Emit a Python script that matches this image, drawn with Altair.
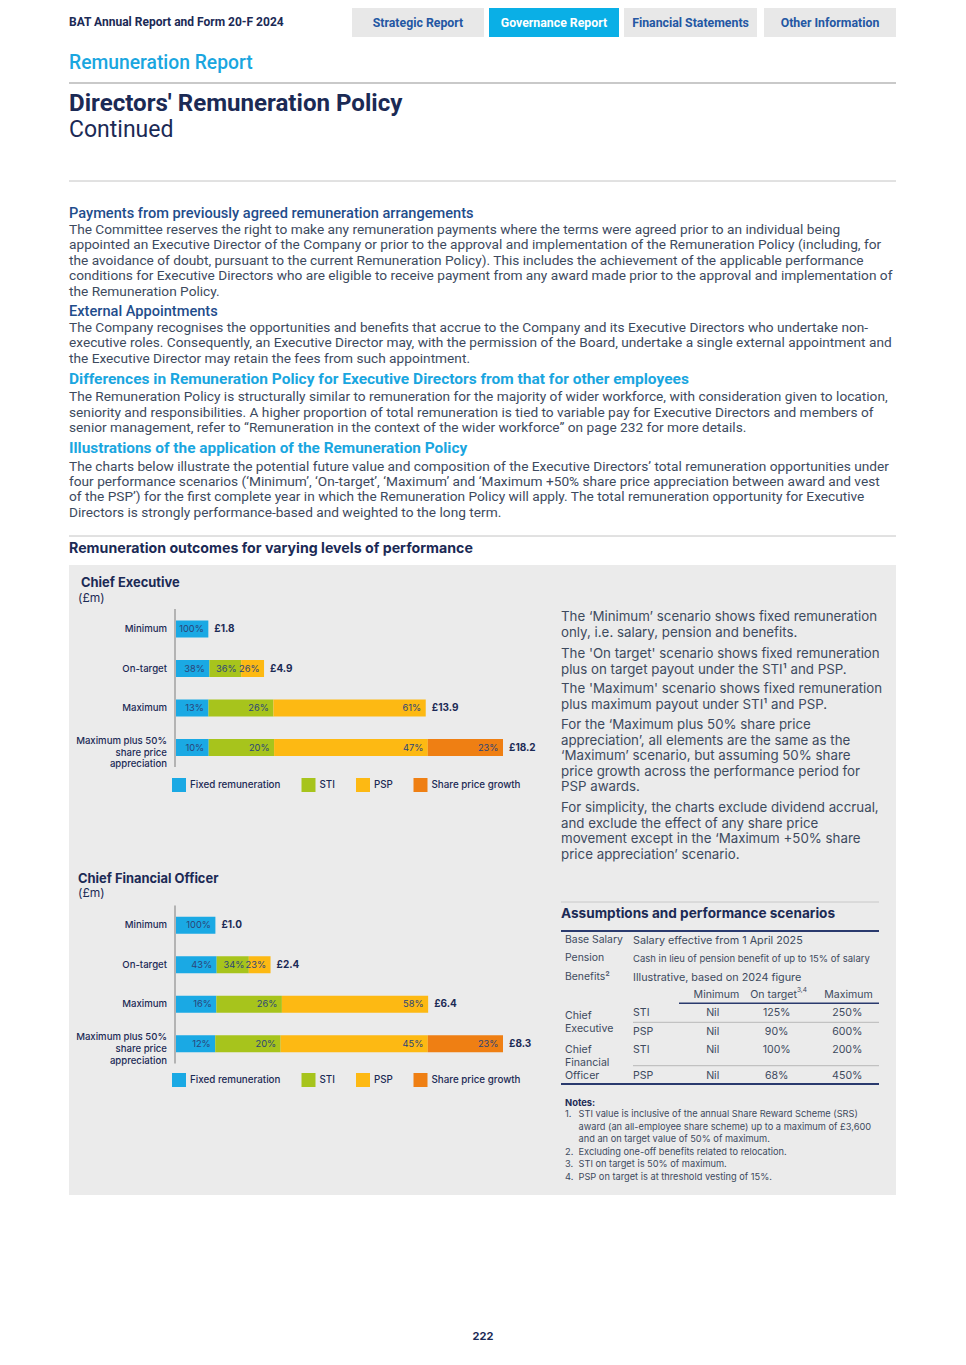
import altair as alt
import pandas as pd

# ---------------- data ----------------
scenarios = ["Minimum", "On-target", "Maximum", "Maximum plus 50%\nshare price\nappreciation"]
components = ["Fixed remuneration", "STI", "PSP", "Share price growth"]
component_colors = ["#1aa9e4", "#a7c41c", "#fdb913", "#ef7f13"]

ceo_totals = [1.8, 4.9, 13.9, 18.2]
ceo_fixed = [100, 38, 13, 10]
ceo_sti = [0, 36, 26, 20]
ceo_psp = [0, 26, 61, 47]
ceo_growth = [0, 0, 0, 23]

cfo_totals = [1.0, 2.4, 6.4, 8.3]
cfo_fixed = [100, 43, 16, 12]
cfo_sti = [0, 34, 26, 20]
cfo_psp = [0, 23, 58, 45]
cfo_growth = [0, 0, 0, 23]

header_left = "BAT Annual Report and Form 20-F 2024"
tabs = ["Strategic Report", "Governance Report", "Financial Statements", "Other Information"]
section = "Remuneration Report"
title = "Directors' Remuneration Policy"
subtitle = "Continued"

h_payments = "Payments from previously agreed remuneration arrangements"
p_payments = [
    "The Committee reserves the right to make any remuneration payments where the terms were agreed prior to an individual being",
    "appointed an Executive Director of the Company or prior to the approval and implementation of the Remuneration Policy (including, for",
    "the avoidance of doubt, pursuant to the current Remuneration Policy). This includes the achievement of the applicable performance",
    "conditions for Executive Directors who are eligible to receive payment from any award made prior to the approval and implementation of",
    "the Remuneration Policy.",
]
h_external = "External Appointments"
p_external = [
    "The Company recognises the opportunities and benefits that accrue to the Company and its Executive Directors who undertake non-",
    "executive roles. Consequently, an Executive Director may, with the permission of the Board, undertake a single external appointment and",
    "the Executive Director may retain the fees from such appointment.",
]
h_diff = "Differences in Remuneration Policy for Executive Directors from that for other employees"
p_diff = [
    "The Remuneration Policy is structurally similar to remuneration for the majority of wider workforce, with consideration given to location,",
    "seniority and responsibilities. A higher proportion of total remuneration is tied to variable pay for Executive Directors and members of",
    "senior management, refer to \u201cRemuneration in the context of the wider workforce\u201d on page 232 for more details.",
]
h_illus = "Illustrations of the application of the Remuneration Policy"
p_illus = [
    "The charts below illustrate the potential future value and composition of the Executive Directors\u2019 total remuneration opportunities under",
    "four performance scenarios (\u2018Minimum\u2019, \u2018On-target\u2019, \u2018Maximum\u2019 and \u2018Maximum +50% share price appreciation between award and vest",
    "of the PSP\u2019) for the first complete year in which the Remuneration Policy will apply. The total remuneration opportunity for Executive",
    "Directors is strongly performance-based and weighted to the long term.",
]
h_outcomes = "Remuneration outcomes for varying levels of performance"
ceo_title = "Chief Executive"
cfo_title = "Chief Financial Officer"
unit_label = "(\u00a3m)"

side_paras = [
    ["The \u2018Minimum\u2019 scenario shows fixed remuneration", "only, i.e. salary, pension and benefits."],
    ["The 'On target' scenario shows fixed remuneration", "plus on target payout under the STI\u00b9 and PSP."],
    ["The 'Maximum' scenario shows fixed remuneration", "plus maximum payout under STI\u00b9 and PSP."],
    ["For the \u2018Maximum plus 50% share price", "appreciation\u2019, all elements are the same as the",
     "\u2018Maximum\u2019 scenario, but assuming 50% share", "price growth across the performance period for", "PSP awards."],
    ["For simplicity, the charts exclude dividend accrual,", "and exclude the effect of any share price",
     "movement except in the \u2018Maximum +50% share", "price appreciation\u2019 scenario."],
]

assump_title = "Assumptions and performance scenarios"
assump_labels = ["Base Salary", "Pension", "Benefits\u00b2"]
assump_values = ["Salary effective from 1 April 2025",
                 "Cash in lieu of pension benefit of up to 15% of salary",
                 "Illustrative, based on 2024 figure"]
table_cols = ["Minimum", "On target", "Maximum"]
table_roles = [["Chief", "Executive"], ["Chief", "Financial", "Officer"]]
table_plans = ["STI", "PSP", "STI", "PSP"]
table_min = ["Nil", "Nil", "Nil", "Nil"]
table_target = ["125%", "90%", "100%", "68%"]
table_max = ["250%", "600%", "200%", "450%"]

notes_title = "Notes:"
notes = [
    ["STI value is inclusive of the annual Share Reward Scheme (SRS)",
     "award (an all-employee share scheme) up to a maximum of \u00a33,600",
     "and an on target value of 50% of maximum."],
    ["Excluding one-off benefits related to relocation."],
    ["STI on target is 50% of maximum."],
    ["PSP on target is at threshold vesting of 15%."],
]
page_number = "222"

# ---------------- style ----------------
NAVY = "#1b2a55"
BODY = "#3d4a5e"
DBLUE = "#1f4d8c"
CYAN = "#1aa6df"
TABTXT = "#2457a3"
TABBG = "#e8e8e8"
TABACT = "#0aafe6"
PANEL = "#ebebeb"
F_BODY = "Roboto"
F_UI = "Inter"

ONE = pd.DataFrame({"k": [0]})
OFF = 8


def X(v):
    return v - OFF


def Y(v):
    return v - OFF


def text(lines, x, y, size, color, font=F_UI, weight="normal", lh=15.5, align="left"):
    kw = dict(align=align, baseline="top", font=font, fontSize=size, color=color, fontWeight=weight)
    if isinstance(lines, list):
        kw["lineHeight"] = lh
    return alt.Chart(ONE).mark_text(**kw).encode(
        x=alt.value(X(x)), y=alt.value(Y(y) - 0.47 * size), text=alt.value(lines))


def rect(x1, x2, y1, y2, color):
    return alt.Chart(ONE).mark_rect(color=color).encode(
        x=alt.value(X(x1)), x2=alt.value(X(x2)), y=alt.value(max(Y(y1), 0)), y2=alt.value(Y(y2)))


def hrule(x1, x2, y, color, w=1.0):
    return alt.Chart(ONE).mark_rule(color=color, strokeWidth=w).encode(
        x=alt.value(X(x1)), x2=alt.value(X(x2)), y=alt.value(Y(y)))


def vrule(x, y1, y2, color, w=1.0):
    return alt.Chart(ONE).mark_rule(color=color, strokeWidth=w).encode(
        x=alt.value(X(x)), y=alt.value(Y(y1)), y2=alt.value(Y(y2)))


def bar_chart(totals, series, x0, x1, y0, y1, legend_y):
    rows = []
    for si, s in enumerate(scenarios):
        for ci, c in enumerate(components):
            p = series[ci][si]
            if p > 0:
                rows.append({"scenario": s, "component": c, "ord": ci, "pct": p,
                             "value": totals[si] * p / 100.0})
    df = pd.DataFrame(rows)
    tot = pd.DataFrame({"scenario": scenarios, "total": totals,
                        "lines": [s.count("\n") + 1 for s in scenarios]})
    xs = alt.Scale(domain=[0, max(totals)], range=[X(x0), X(x1)], nice=False, zero=True)
    ys = alt.Scale(domain=scenarios, range=[Y(y0), Y(y1)], paddingInner=0.57, paddingOuter=0.285)
    ych = alt.Y("scenario:N", scale=ys, axis=None, sort=scenarios)

    bars = alt.Chart(df).mark_bar().encode(
        x=alt.X("value:Q", stack="zero", scale=xs, axis=None),
        y=ych,
        color=alt.Color("component:N",
                        scale=alt.Scale(domain=components, range=component_colors),
                        legend=alt.Legend(orient="none", legendX=X(172), legendY=Y(legend_y) - 7,
                                          direction="horizontal", columns=4, title=None,
                                          symbolType="square", symbolSize=196, symbolStrokeWidth=0,
                                          labelFont=F_UI, labelFontSize=9.8, labelFontWeight=500,
                                          labelColor=NAVY, columnPadding=20.5, labelOffset=4,
                                          padding=0)),
        order=alt.Order("ord:Q"),
    )
    pct = alt.Chart(df).transform_stack(
        stack="value", groupby=["scenario"], sort=[alt.SortField("ord")], as_=["s0", "s1"]
    ).transform_calculate(label="datum.pct + '%'").mark_text(
        align="right", baseline="middle", dx=-4.5, font=F_UI, fontSize=9.3, color="#2b4478"
    ).encode(x=alt.X("s1:Q", scale=xs, axis=None), y=ych, text="label:N")
    totals_lbl = alt.Chart(tot).transform_calculate(
        label="'\u00a3' + format(datum.total, '.1f')"
    ).mark_text(align="left", baseline="middle", dx=6, font=F_UI, fontSize=10,
                fontWeight="bold", color=NAVY).encode(
        x=alt.X("total:Q", scale=xs, axis=None), y=ych, text="label:N")
    lab1 = alt.Chart(tot).transform_filter(alt.datum.lines == 1).mark_text(
        align="right", baseline="middle", font=F_UI, fontSize=9.6, fontWeight=500, color=NAVY
    ).encode(x=alt.value(X(167)), y=ych, text="scenario:N")
    lab3 = alt.Chart(tot).transform_filter(alt.datum.lines > 1).mark_text(
        align="right", baseline="top", dy=-11.5, lineBreak="\n", lineHeight=11.7,
        font=F_UI, fontSize=9.6, fontWeight=500, color=NAVY
    ).encode(x=alt.value(X(167)), y=ych, text="scenario:N")
    return alt.layer(bars, pct, totals_lbl, lab1, lab3)


layers = []
# header tabs
tab_x = [(352, 484), (489, 619), (624, 757), (764, 896)]
for i, (name, (a, b)) in enumerate(zip(tabs, tab_x)):
    layers.append(rect(a, b, 0, 37, TABACT if i == 1 else TABBG))
    layers.append(text(name, (a + b) / 2, 23, 12.3, "white" if i == 1 else TABTXT,
                       font=F_BODY, weight="bold", align="center"))
layers.append(text(header_left, 69, 23, 12, NAVY, font=F_BODY, weight="bold"))
layers.append(text(section, 69, 63, 19.3, CYAN, font=F_BODY, weight=500))
layers.append(hrule(69, 896, 83, "#c9c9c9", 2))
layers.append(text(title, 69, 103, 24.1, NAVY, font=F_BODY, weight="bold"))
layers.append(text(subtitle, 69, 130, 23, NAVY, font=F_BODY))
layers.append(hrule(69, 896, 181, "#c4c4c4", 1))

# body paragraphs
layers.append(text(h_payments, 69, 213, 14.6, DBLUE, font=F_BODY, weight=500))
layers.append(text(p_payments, 69, 229, 13.7, BODY, font=F_BODY, lh=15.5))
layers.append(text(h_external, 69, 311, 14.6, DBLUE, font=F_BODY, weight=500))
layers.append(text(p_external, 69, 327.5, 13.7, BODY, font=F_BODY, lh=15.4))
layers.append(text(h_diff, 69, 379, 15.5, CYAN, font=F_BODY, weight="bold"))
layers.append(text(p_diff, 69, 396.5, 13.7, BODY, font=F_BODY, lh=15.6))
layers.append(text(h_illus, 69, 448, 15.4, CYAN, font=F_BODY, weight="bold"))
layers.append(text(p_illus, 69, 466, 13.7, BODY, font=F_BODY, lh=15.4))
layers.append(hrule(69, 896, 536, "#c4c4c4", 1))
layers.append(text(h_outcomes, 69, 549, 14.2, NAVY, weight="bold"))

# grey panel
layers.append(rect(69, 896, 565, 1195, PANEL))

# chart titles
layers.append(text(ceo_title, 81, 583, 12.9, NAVY, weight="bold"))
layers.append(text(unit_label, 78, 599, 12, NAVY))
layers.append(text(cfo_title, 78, 879, 12.9, NAVY, weight="bold"))
layers.append(text(unit_label, 78, 894, 12, NAVY))
layers.append(vrule(175, 609, 767, "#a0a0a0", 1.5))
layers.append(vrule(175, 905.5, 1063.5, "#a0a0a0", 1.5))

# side text
para_y = [616.7, 653.3, 688.3, 724.3, 807.3]
for lines, yy in zip(side_paras, para_y):
    layers.append(text(lines, 561, yy, 13.3, BODY, lh=15.5))

# assumptions table
layers.append(hrule(561, 879, 902, "#c8c8c8", 1))
layers.append(text(assump_title, 561, 913, 13.6, NAVY, weight="bold"))
layers.append(hrule(561, 879, 931, "#2a3a6e", 2))
for lab, val, yy in zip(assump_labels, assump_values, [940, 958.3, 976.7]):
    layers.append(text(lab, 565, yy, 10.4, BODY))
    layers.append(text(val, 633, yy, 9.5 if len(val) > 40 else 10.8, BODY))
col_x = [716.5, 773.5, 848.5]
for name, cx in zip(table_cols, col_x):
    layers.append(text(name, cx, 995, 10.6, BODY, align="center"))
layers.append(text("3,4", 797, 990, 6.5, BODY))
layers.append(hrule(679, 879, 1003.3, "#2a3a6e", 1.5))
layers.append(text(table_roles[0], 565, 1015.7, 10.6, BODY, lh=13.3))
layers.append(text(table_roles[1], 565, 1050, 10.6, BODY, lh=12.9))
row_y = [1013.3, 1031.7, 1049.7, 1075.7]
data_x = [712.7, 776.7, 847.3]
for i, yy in enumerate(row_y):
    layers.append(text(table_plans[i], 633, yy, 10.6, BODY))
    for col, cx in zip([table_min, table_target, table_max], data_x):
        layers.append(text(col[i], cx, yy, 10.6, BODY, align="center"))
layers.append(hrule(633, 879, 1022.3, "#b8b8b8", 1))
layers.append(hrule(633, 879, 1065.7, "#b8b8b8", 1))
layers.append(hrule(561, 879, 1084, "#2a3a6e", 2))

# notes
layers.append(text(notes_title, 565, 1103.3, 9.4, NAVY, weight="bold"))
note_y = [1114.8, 1152, 1164.8, 1177.5]
for i, (lines, yy) in enumerate(zip(notes, note_y)):
    layers.append(text(f"{i + 1}.", 565, yy, 9.25, BODY))
    layers.append(text(lines if len(lines) > 1 else lines[0], 578.5, yy, 9.25, BODY, lh=12.2))

layers.append(text(page_number, 483, 1336, 11, NAVY, weight="bold", align="center"))

# bar charts
ceo = bar_chart(ceo_totals, [ceo_fixed, ceo_sti, ceo_psp, ceo_growth], 176, 503, 609.3, 767.3, 785)
cfo = bar_chart(cfo_totals, [cfo_fixed, cfo_sti, cfo_psp, cfo_growth], 176, 503, 905.5, 1063.5, 1080)
layers.append(ceo)
layers.append(cfo)

chart = alt.layer(*layers).resolve_scale(
    x="independent", y="independent", color="independent"
).properties(
    width=950, height=1349, padding=0, autosize=alt.AutoSizeParams(type="none")
).configure_view(strokeWidth=0)

chart.save("out.html", embed_options={"renderer": "svg", "actions": False})
